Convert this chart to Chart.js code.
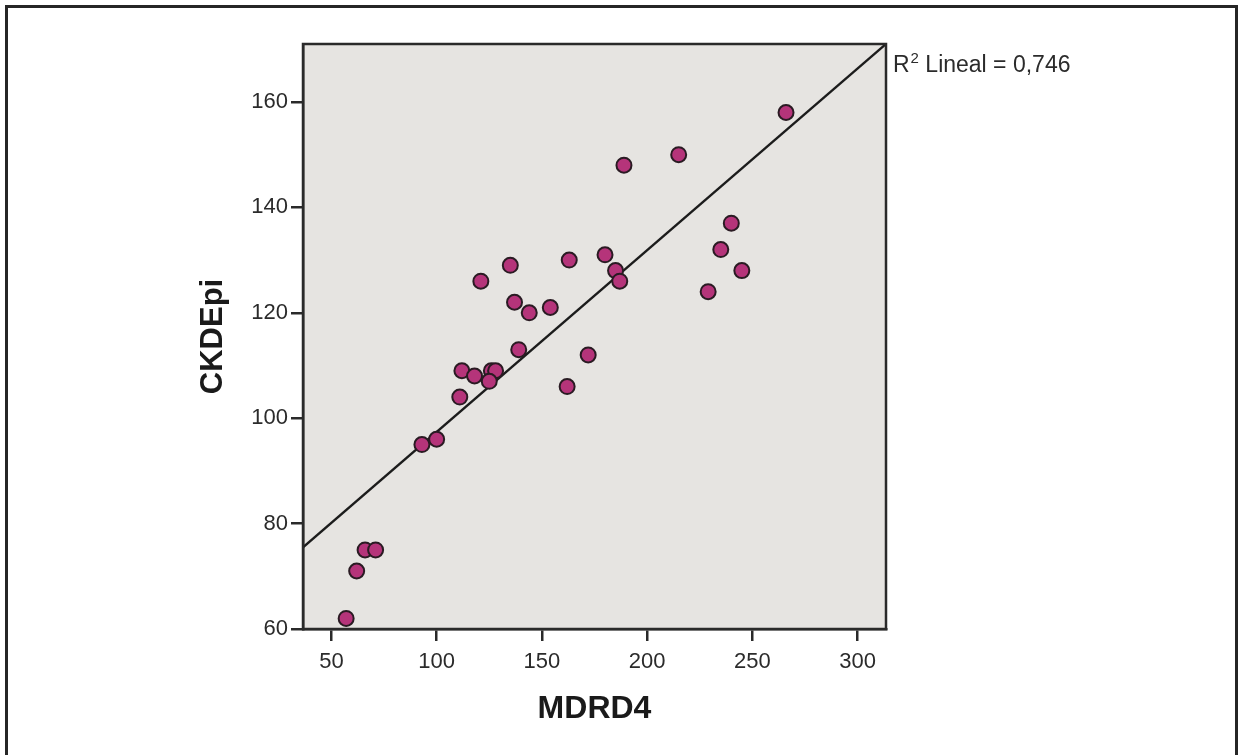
<!DOCTYPE html>
<html>
<head>
<meta charset="utf-8">
<script src="https://cdn.jsdelivr.net/npm/chart.js@4.4.1/dist/chart.umd.min.js"></script>
<style>
    html, body { margin: 0; padding: 0; background: #ffffff; }
    #wrap { width: 1241px; height: 755px; position: relative; }
</style>
</head>
<body>
<div id="wrap"><canvas id="scatter"></canvas></div>
<script>
// MDRD4 (x) vs CKDEpi (y)
const mdrd4 = [266, 215, 189, 240, 235, 180, 163, 135, 121, 185, 187, 245, 229, 137, 154, 144,
    139, 172, 162, 112, 118, 126, 128, 125, 111, 93, 100, 66, 71, 62, 57];
const ckdepi = [158, 150, 148, 137, 132, 131, 130, 129, 126, 128, 126, 128, 124, 122, 121, 120,
    113, 112, 106, 109, 108, 109, 109, 107, 104, 95, 96, 75, 75, 71, 62];

// fitted line endpoints at the plot edges
const fitX = [36.5, 313.5];
const fitY = [75.5, 171];

const xTicks = [50, 100, 150, 200, 250, 300];
const yTicks = [60, 80, 100, 120, 140, 160];
const r2Label = '0,746';

const AXIS_COLOR = '#2a2a2a';
const TEXT_COLOR = '#2b2b2b';
const FONT = "'Liberation Sans', Arial, sans-serif";

const points = mdrd4.map((x, i) => ({ x, y: ckdepi[i] }));
const fitLine = fitX.map((x, i) => ({ x, y: fitY[i] }));

const framePlugin = {
    id: 'spssFrame',
    beforeDraw(chart) {
        const { ctx, chartArea } = chart;
        ctx.save();
        ctx.fillStyle = '#e6e4e1';
        ctx.fillRect(chartArea.left, chartArea.top, chartArea.right - chartArea.left, chartArea.bottom - chartArea.top);
        // outer border of the figure
        ctx.strokeStyle = '#262626';
        ctx.lineWidth = 3;
        ctx.strokeRect(6.5, 6.5, 1230, 760);
        ctx.restore();
    },
    afterDraw(chart) {
        const { ctx, chartArea } = chart;
        ctx.save();
        ctx.strokeStyle = AXIS_COLOR;
        ctx.lineWidth = 2.5;
        ctx.strokeRect(chartArea.left, chartArea.top, chartArea.right - chartArea.left, chartArea.bottom - chartArea.top);

        // R² Lineal label next to the end of the fit line
        const x0 = chartArea.right + 7;
        const base = chartArea.top + 28;
        ctx.fillStyle = TEXT_COLOR;
        ctx.textBaseline = 'alphabetic';
        ctx.textAlign = 'left';
        ctx.font = `23px ${FONT}`;
        ctx.fillText('R', x0, base);
        let w = ctx.measureText('R').width;
        ctx.font = `15px ${FONT}`;
        ctx.fillText('2', x0 + w + 1, base - 9);
        w += ctx.measureText('2').width + 1;
        ctx.font = `23px ${FONT}`;
        ctx.fillText(` Lineal = ${r2Label}`, x0 + w, base);
        ctx.restore();
    }
};

new Chart(document.getElementById('scatter'), {
    type: 'scatter',
    data: {
        datasets: [
            {
                label: 'CKDEpi',
                data: points,
                backgroundColor: '#b5347a',
                borderColor: '#2a1b23',
                borderWidth: 2,
                pointRadius: 7.5,
                order: 1
            },
            {
                type: 'line',
                label: 'Lineal',
                data: fitLine,
                borderColor: '#1c1c1c',
                borderWidth: 2.4,
                pointRadius: 0,
                fill: false,
                order: 2
            }
        ]
    },
    options: {
        responsive: true,
        maintainAspectRatio: false,
        animation: false,
        layout: {
            padding: { left: 0, top: 44, right: 355, bottom: 0 }
        },
        plugins: {
            legend: { display: false },
            tooltip: { enabled: false }
        },
        scales: {
            x: {
                type: 'linear',
                min: fitX[0],
                max: fitX[1],
                afterFit: (scale) => { scale.height = 126; },
                afterBuildTicks: (scale) => { scale.ticks = xTicks.map((value) => ({ value })); },
                ticks: {
                    color: TEXT_COLOR,
                    padding: 8,
                    font: { family: FONT, size: 22 }
                },
                grid: {
                    drawOnChartArea: false,
                    drawTicks: true,
                    tickLength: 12,
                    color: AXIS_COLOR,
                    lineWidth: 2.5
                },
                border: { display: true, color: AXIS_COLOR, width: 2.5 },
                title: {
                    display: true,
                    text: 'MDRD4',
                    color: '#1a1a1a',
                    font: { family: FONT, size: 32, weight: 'bold' },
                    padding: { top: 0, bottom: 27 }
                }
            },
            y: {
                type: 'linear',
                min: 60,
                max: fitY[1],
                afterFit: (scale) => { scale.width = 303; },
                afterBuildTicks: (scale) => { scale.ticks = yTicks.map((value) => ({ value })); },
                ticks: {
                    color: TEXT_COLOR,
                    padding: 3,
                    font: { family: FONT, size: 22 }
                },
                grid: {
                    drawOnChartArea: false,
                    drawTicks: true,
                    tickLength: 12,
                    color: AXIS_COLOR,
                    lineWidth: 2.5
                },
                border: { display: true, color: AXIS_COLOR, width: 2.5 },
                title: {
                    display: true,
                    text: 'CKDEpi',
                    color: '#1a1a1a',
                    font: { family: FONT, size: 31, weight: 'bold' },
                    padding: { top: 195, bottom: 0 }
                }
            }
        }
    },
    plugins: [framePlugin]
});
</script>
</body>
</html>
